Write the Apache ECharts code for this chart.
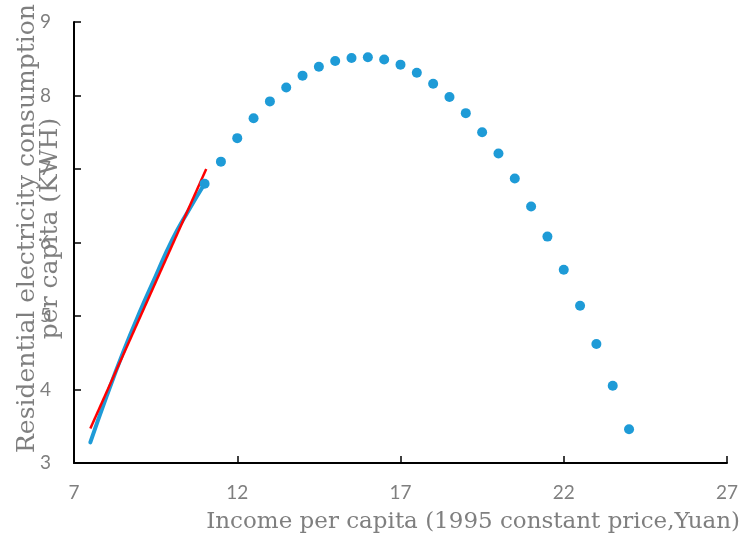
<!DOCTYPE html>
<html>
<head>
<meta charset="utf-8">
<script src="https://cdn.jsdelivr.net/npm/echarts@6/dist/echarts.min.js"></script>
<style>
  html, body { margin: 0; padding: 0; background: #ffffff; }
  #chart { width: 742px; height: 536px; }
</style>
</head>
<body>
<div id="chart"></div>
<script>
// Income per capita (1995 constant price, Yuan) for the scattered points
const incomeDots = [11, 11.5, 12, 12.5, 13, 13.5, 14, 14.5, 15, 15.5, 16, 16.5, 17, 17.5,
                    18, 18.5, 19, 19.5, 20, 20.5, 21, 21.5, 22, 22.5, 23, 23.5, 24];
// Residential electricity consumption per capita (KWH) at those incomes
const consumptionDots = [6.80, 7.10, 7.42, 7.69, 7.92, 8.11, 8.27, 8.39, 8.47, 8.51, 8.52, 8.49, 8.42, 8.31,
                         8.16, 7.98, 7.76, 7.50, 7.21, 6.87, 6.49, 6.08, 5.63, 5.14, 4.62, 4.05, 3.46];

// Observed curve (blue line)
const incomeLine = [7.5, 8, 8.5, 9, 9.5, 10, 10.5, 11];
const consumptionLine = [3.28, 3.91, 4.50, 5.04, 5.54, 6.03, 6.43, 6.80];

// Linear fit (red line)
const incomeFit = [7.5, 11.05];
const consumptionFit = [3.47, 7.0];

// Axis ticks
const xTicks = [7, 12, 17, 22, 27];
const yTicks = [3, 4, 5, 6, 7, 8, 9];

const BLUE = '#1E9BD7';
const RED = '#FF0000';
const GREY = '#7F7F7F';
const SERIF = '"DejaVu Serif", "Liberation Serif", serif';
const SANS = 'Lato, "Open Sans", sans-serif';

const pairs = (xs, ys) => xs.map((x, i) => [x, ys[i]]);

const chart = echarts.init(document.getElementById('chart'), null, { renderer: 'canvas' });

chart.setOption({
  animation: false,
  backgroundColor: '#ffffff',
  grid: { left: 74, right: 15, top: 22, bottom: 73, containLabel: false, outerBoundsMode: 'none' },
  xAxis: {
    type: 'value',
    min: xTicks[0],
    max: xTicks[xTicks.length - 1],
    name: 'Income per capita (1995 constant price,Yuan)',
    nameLocation: 'end',
    nameGap: 13,
    nameMoveOverlap: false,
    nameTextStyle: {
      fontFamily: SERIF, fontSize: 23, color: GREY,
      align: 'right', verticalAlign: 'top', padding: [48, 0, 0, 0]
    },
    axisLine: { show: true, onZero: false, lineStyle: { color: '#000', width: 2 } },
    axisTick: { show: true, inside: true, length: 7, customValues: xTicks,
                lineStyle: { color: '#000', width: 1.5 } },
    axisLabel: { customValues: xTicks, margin: 20, fontFamily: SANS, fontSize: 19, color: GREY },
    splitLine: { show: false }
  },
  yAxis: {
    type: 'value',
    min: yTicks[0],
    max: yTicks[yTicks.length - 1],
    interval: 1,
    name: 'Residential electricity consumption\nper capita (KWH)',
    nameLocation: 'middle',
    nameRotate: 90,
    nameGap: 12,
    nameMoveOverlap: false,
    nameTextStyle: {
      fontFamily: SERIF, fontSize: 25, color: GREY, lineHeight: 23,
      align: 'center', padding: [0, 0, 0, 28]
    },
    axisLine: { show: true, onZero: false, lineStyle: { color: '#000', width: 2 } },
    axisTick: { show: true, inside: true, length: 7, lineStyle: { color: '#000', width: 1.5 } },
    axisLabel: { margin: 23, fontFamily: SANS, fontSize: 19, color: GREY },
    splitLine: { show: false }
  },
  series: [
    {
      name: 'Observed',
      type: 'line',
      data: pairs(incomeLine, consumptionLine),
      smooth: true,
      showSymbol: false,
      lineStyle: { color: BLUE, width: 4, cap: 'round' },
      z: 2
    },
    {
      name: 'Linear fit',
      type: 'line',
      data: pairs(incomeFit, consumptionFit),
      showSymbol: false,
      lineStyle: { color: RED, width: 2.5 },
      z: 3
    },
    {
      name: 'Projection',
      type: 'scatter',
      data: pairs(incomeDots, consumptionDots),
      symbol: 'circle',
      symbolSize: 10,
      itemStyle: { color: BLUE, opacity: 1 },
      z: 4
    }
  ]
});
</script>
</body>
</html>
